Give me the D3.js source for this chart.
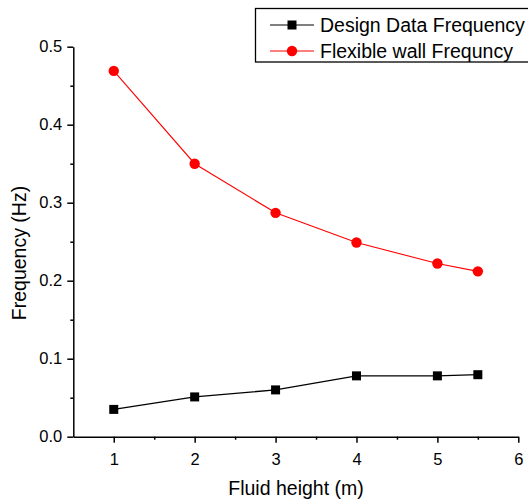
<!DOCTYPE html>
<html>
<head>
<meta charset="utf-8">
<script src="https://cdn.jsdelivr.net/npm/d3@7"></script>
<style>
  body { margin: 0; background: #fff; }
  text { font-family: "Liberation Sans", Arial, sans-serif; fill: #000; }
</style>
</head>
<body>
<div id="chart"></div>
<script>
// data
let heights = [1, 2, 3, 4, 5, 5.5];
let designFreq = [0.035, 0.051, 0.060, 0.078, 0.078, 0.0795];
let flexibleFreq = [0.469, 0.350, 0.287, 0.249, 0.222, 0.212];
let xTicks = [1, 2, 3, 4, 5, 6];
let yTicks = [0.0, 0.1, 0.2, 0.3, 0.4, 0.5];
let seriesNames = ["Design Data Frequency", "Flexible wall Frequncy"];

let W = 528, H = 502;

let svg = d3.select("#chart").append("svg")
    .attr("width", W)
    .attr("height", H);

// scales
let x = d3.scaleLinear().domain([0.5, 6]).range([73.3, 518.3]);
let y = d3.scaleLinear().domain([0, 0.5]).range([436.7, 46.7]);

// minor ticks
let xMinor = d3.range(1.5, 6, 1);
let yMinor = d3.range(0.05, 0.5, 0.1);

// x axis
let xAxis = svg.append("g")
    .attr("transform", "translate(0," + y(0) + ")")
    .call(d3.axisBottom(x).tickValues(xTicks).tickFormat(d3.format("d")).tickSize(6).tickSizeOuter(0));
xAxis.select(".domain").attr("stroke-width", 1.5);
xAxis.selectAll(".tick line").attr("stroke-width", 1.5);
xAxis.selectAll("text").attr("font-size", 16.5).attr("dy", "1.2em");

svg.append("g")
    .attr("transform", "translate(0," + y(0) + ")")
    .call(d3.axisBottom(x).tickValues(xMinor).tickFormat("").tickSize(3).tickSizeOuter(0))
    .call(g => g.select(".domain").remove())
    .selectAll(".tick line").attr("stroke-width", 1.5);

// y axis
let yAxis = svg.append("g")
    .attr("transform", "translate(" + x(0.5) + ",0)")
    .call(d3.axisLeft(y).tickValues(yTicks).tickFormat(d3.format(".1f")).tickSize(6).tickSizeOuter(0));
yAxis.select(".domain").attr("stroke-width", 1.5);
yAxis.selectAll(".tick line").attr("stroke-width", 1.5);
yAxis.selectAll("text").attr("font-size", 16.5).attr("x", -11);

svg.append("g")
    .attr("transform", "translate(" + x(0.5) + ",0)")
    .call(d3.axisLeft(y).tickValues(yMinor).tickFormat("").tickSize(3).tickSizeOuter(0))
    .call(g => g.select(".domain").remove())
    .selectAll(".tick line").attr("stroke-width", 1.5);

// axis titles
svg.append("text")
    .attr("x", 296)
    .attr("y", 495)
    .attr("text-anchor", "middle")
    .attr("font-size", 19.5)
    .text("Fluid height (m)");

svg.append("text")
    .attr("transform", "translate(26,253) rotate(-90)")
    .attr("text-anchor", "middle")
    .attr("font-size", 19.5)
    .text("Frequency (Hz)");

// lines
let line = d3.line()
    .x((d, i) => x(heights[i]))
    .y(d => y(d));

svg.append("path")
    .datum(designFreq)
    .attr("fill", "none")
    .attr("stroke", "#000")
    .attr("stroke-width", 1.3)
    .attr("d", line);

svg.append("path")
    .datum(flexibleFreq)
    .attr("fill", "none")
    .attr("stroke", "#ff0000")
    .attr("stroke-width", 1.1)
    .attr("d", line);

// markers
svg.selectAll(".sq")
    .data(designFreq)
    .enter().append("rect")
    .attr("class", "sq")
    .attr("x", (d, i) => x(heights[i]) - 4.5)
    .attr("y", d => y(d) - 4.5)
    .attr("width", 9)
    .attr("height", 9)
    .attr("fill", "#000");

svg.selectAll(".dot")
    .data(flexibleFreq)
    .enter().append("circle")
    .attr("class", "dot")
    .attr("cx", (d, i) => x(heights[i]))
    .attr("cy", d => y(d))
    .attr("r", 5.2)
    .attr("fill", "#ff0000");

// legend
let legend = svg.append("g");
legend.append("rect")
    .attr("x", 255.5)
    .attr("y", 8.5)
    .attr("width", 300)
    .attr("height", 53.5)
    .attr("fill", "#fff")
    .attr("stroke", "#000")
    .attr("stroke-width", 1.3);

let colors = ["#000", "#ff0000"];
seriesNames.forEach((name, i) => {
    let cy = 25 + i * 26;
    legend.append("line")
        .attr("x1", 270).attr("x2", 314)
        .attr("y1", cy).attr("y2", cy)
        .attr("stroke", colors[i])
        .attr("stroke-width", 1.2);
    if (i === 0) {
        legend.append("rect")
            .attr("x", 292 - 4.5).attr("y", cy - 4.5)
            .attr("width", 9).attr("height", 9)
            .attr("fill", "#000");
    } else {
        legend.append("circle")
            .attr("cx", 292).attr("cy", cy)
            .attr("r", 5.2)
            .attr("fill", "#ff0000");
    }
    legend.append("text")
        .attr("x", 320)
        .attr("y", cy + 6.8)
        .attr("font-size", 19.5)
        .text(name);
});
</script>
</body>
</html>
